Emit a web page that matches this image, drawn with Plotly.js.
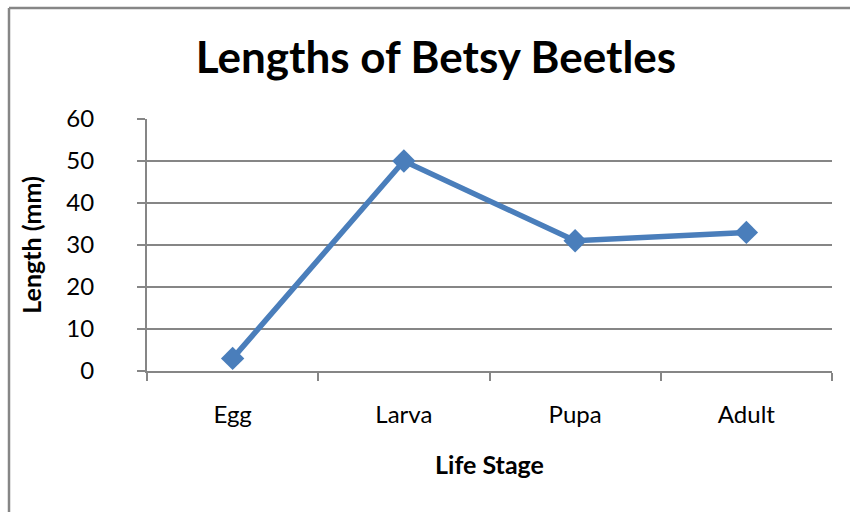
<!DOCTYPE html>
<html>
<head>
<meta charset="utf-8">
<script src="https://cdn.plot.ly/plotly-3.0.1.min.js"></script>
<style>
  html, body { margin: 0; padding: 0; background: #ffffff; overflow: hidden; }
  #chart { width: 850px; height: 512px; overflow: hidden; }
</style>
</head>
<body>
<div id="chart"></div>
<script>
const categories = ["Egg", "Larva", "Pupa", "Adult"];
const lengths = [3, 50, 31, 33];
const yTickValues = [0, 10, 20, 30, 40, 50, 60];

const W = 850, H = 512;
const margin = { l: 147, r: 18, t: 119, b: 141 };
const pw = W - margin.l - margin.r;
const ph = H - margin.t - margin.b;
const px2x = p => (p - margin.l) / pw;
const py2y = p => (H - margin.b - p) / ph;

const font = "Lato, 'Open Sans', sans-serif";
const grey = "#868686";

const trace = {
  type: "scatter",
  mode: "lines+markers",
  x: categories,
  y: lengths,
  line: { color: "#4a7ebb", width: 5.5 },
  marker: { symbol: "diamond", size: 18, color: "#4a7ebb" },
  hoverinfo: "x+y",
  cliponaxis: false
};

const layout = {
  width: W,
  height: H,
  margin: margin,
  paper_bgcolor: "#ffffff",
  plot_bgcolor: "#ffffff",
  showlegend: false,
  font: { family: font, color: "#000000", size: 24 },
  title: {
    text: "<b>Lengths of Betsy Beetles</b>",
    font: { family: font, size: 44, color: "#000000" },
    xref: "container", yref: "container",
    x: 436 / W, xanchor: "center",
    y: 1 - 58 / H, yanchor: "middle"
  },
  xaxis: {
    type: "category",
    range: [-0.5, 3.5],
    tickson: "boundaries",
    ticks: "outside",
    ticklen: 8,
    tickwidth: 2,
    tickcolor: grey,
    showline: true,
    linecolor: grey,
    linewidth: 2,
    showgrid: false,
    zeroline: false,
    ticklabelstandoff: 21,
    tickfont: { family: font, size: 24, color: "#000000" },
    title: { text: "<b>Life Stage</b>", font: { family: font, size: 25, color: "#000000" }, standoff: 30 },
    fixedrange: true
  },
  yaxis: {
    range: [0, 60],
    tickvals: yTickValues,
    ticks: "outside",
    ticklen: 8,
    tickwidth: 2,
    tickcolor: grey,
    showline: true,
    linecolor: grey,
    linewidth: 2,
    showgrid: true,
    gridcolor: grey,
    gridwidth: 2,
    zeroline: false,
    ticklabelstandoff: 38,
    tickfont: { family: font, size: 24, color: "#000000" },
    title: { text: "<b>Length (mm)</b>", font: { family: font, size: 25, color: "#000000" }, standoff: 18 },
    fixedrange: true
  },
  shapes: [
    {
      type: "line", xref: "paper", yref: "paper",
      x0: px2x(9), x1: px2x(850), y0: py2y(8), y1: py2y(8),
      line: { color: grey, width: 2.5 }, layer: "below"
    },
    {
      type: "line", xref: "paper", yref: "paper",
      x0: px2x(9), x1: px2x(9), y0: py2y(8), y1: py2y(512),
      line: { color: grey, width: 2.5 }, layer: "below"
    }
  ]
};

Plotly.newPlot("chart", [trace], layout, { displayModeBar: false, staticPlot: true });
</script>
</body>
</html>
